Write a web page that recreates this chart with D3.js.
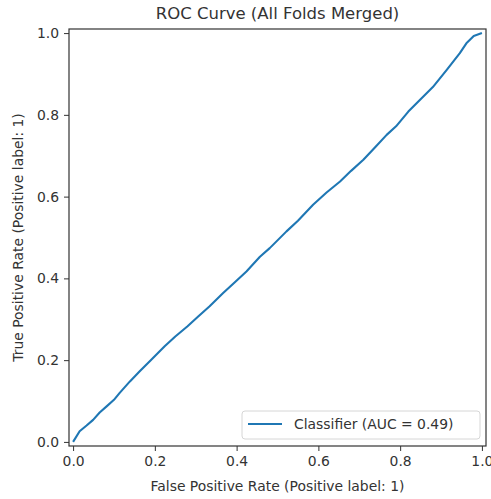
<!DOCTYPE html>
<html>
<head>
<meta charset="utf-8">
<script src="https://cdn.jsdelivr.net/npm/d3@7"></script>
<style>
  body { margin: 0; background: #fff; }
  text { font-family: "DejaVu Sans", sans-serif; fill: #333; }
</style>
</head>
<body>
<div id="roc"></div>
<script>
// ROC points
const fpr = [0, 0.016, 0.033, 0.049, 0.065, 0.082, 0.10, 0.114, 0.139, 0.163, 0.19, 0.224, 0.25, 0.28, 0.306, 0.334, 0.367, 0.395, 0.424, 0.457, 0.481, 0.522, 0.55, 0.587, 0.62, 0.653, 0.68, 0.71, 0.74, 0.767, 0.79, 0.82, 0.85, 0.88, 0.914, 0.946, 0.962, 0.98, 1.0];
const tpr = [0, 0.026, 0.04, 0.054, 0.072, 0.087, 0.103, 0.12, 0.148, 0.173, 0.2, 0.234, 0.258, 0.283, 0.307, 0.332, 0.364, 0.39, 0.417, 0.453, 0.474, 0.515, 0.541, 0.58, 0.61, 0.637, 0.663, 0.69, 0.722, 0.751, 0.772, 0.808, 0.838, 0.868, 0.91, 0.951, 0.975, 0.993, 1.0];
const ticks = [0, 0.2, 0.4, 0.6, 0.8, 1.0];
const aucLabel = "Classifier (AUC = 0.49)";

const width = 491, height = 499;
const margin = { top: 29, right: 5, bottom: 53, left: 69 };
const w = width - margin.left - margin.right,
      h = height - margin.top - margin.bottom;

const svg = d3.select("#roc")
    .append("svg")
    .attr("width", width)
    .attr("height", height);

const g = svg.append("g")
    .attr("transform", `translate(${margin.left},${margin.top})`);

const x = d3.scaleLinear().domain([-0.01, 1.01]).range([0, w]);
const y = d3.scaleLinear().domain([-0.01, 1.01]).range([h, 0]);

// axes
const xAxis = g.append("g")
    .attr("transform", `translate(0,${h})`)
    .call(d3.axisBottom(x).tickValues(ticks).tickFormat(d3.format(".1f")).tickSize(5).tickPadding(5));
const yAxis = g.append("g")
    .call(d3.axisLeft(y).tickValues(ticks).tickFormat(d3.format(".1f")).tickSize(5).tickPadding(5));

[xAxis, yAxis].forEach(a => {
    a.select(".domain").remove();
    a.selectAll("line").attr("stroke", "#333").attr("stroke-width", 1);
    a.selectAll("text").style("font-size", "13.9px").style("font-family", "DejaVu Sans").attr("fill", "#333");
});

// frame
g.append("rect")
    .attr("width", w)
    .attr("height", h)
    .attr("fill", "none")
    .attr("stroke", "#333")
    .attr("stroke-width", 1.2);

// curve
const line = d3.line()
    .x((d, i) => x(fpr[i]))
    .y(d => y(d));

g.append("path")
    .datum(tpr)
    .attr("fill", "none")
    .attr("stroke", "#1f77b4")
    .attr("stroke-width", 2.1)
    .attr("stroke-linejoin", "round")
    .attr("d", line);

// legend
const legend = g.append("g").attr("transform", `translate(${w - 244},${h - 35})`);
legend.append("rect")
    .attr("width", 238)
    .attr("height", 28)
    .attr("rx", 3)
    .attr("fill", "white")
    .attr("fill-opacity", 0.8)
    .attr("stroke", "#d6d6d6");
legend.append("line")
    .attr("x1", 6).attr("x2", 40)
    .attr("y1", 13).attr("y2", 13)
    .attr("stroke", "#1f77b4")
    .attr("stroke-width", 2.1);
legend.append("text")
    .attr("x", 52)
    .attr("y", 18)
    .style("font-size", "13.9px")
    .text(aucLabel);

// labels
svg.append("text")
    .attr("x", margin.left + w / 2)
    .attr("y", 19)
    .attr("text-anchor", "middle")
    .style("font-size", "16.5px")
    .text("ROC Curve (All Folds Merged)");

svg.append("text")
    .attr("x", margin.left + w / 2)
    .attr("y", 491)
    .attr("text-anchor", "middle")
    .style("font-size", "13.9px")
    .text("False Positive Rate (Positive label: 1)");

svg.append("text")
    .attr("transform", "rotate(-90)")
    .attr("x", -(margin.top + h / 2))
    .attr("y", 23)
    .attr("text-anchor", "middle")
    .style("font-size", "13.9px")
    .text("True Positive Rate (Positive label: 1)");
</script>
</body>
</html>
